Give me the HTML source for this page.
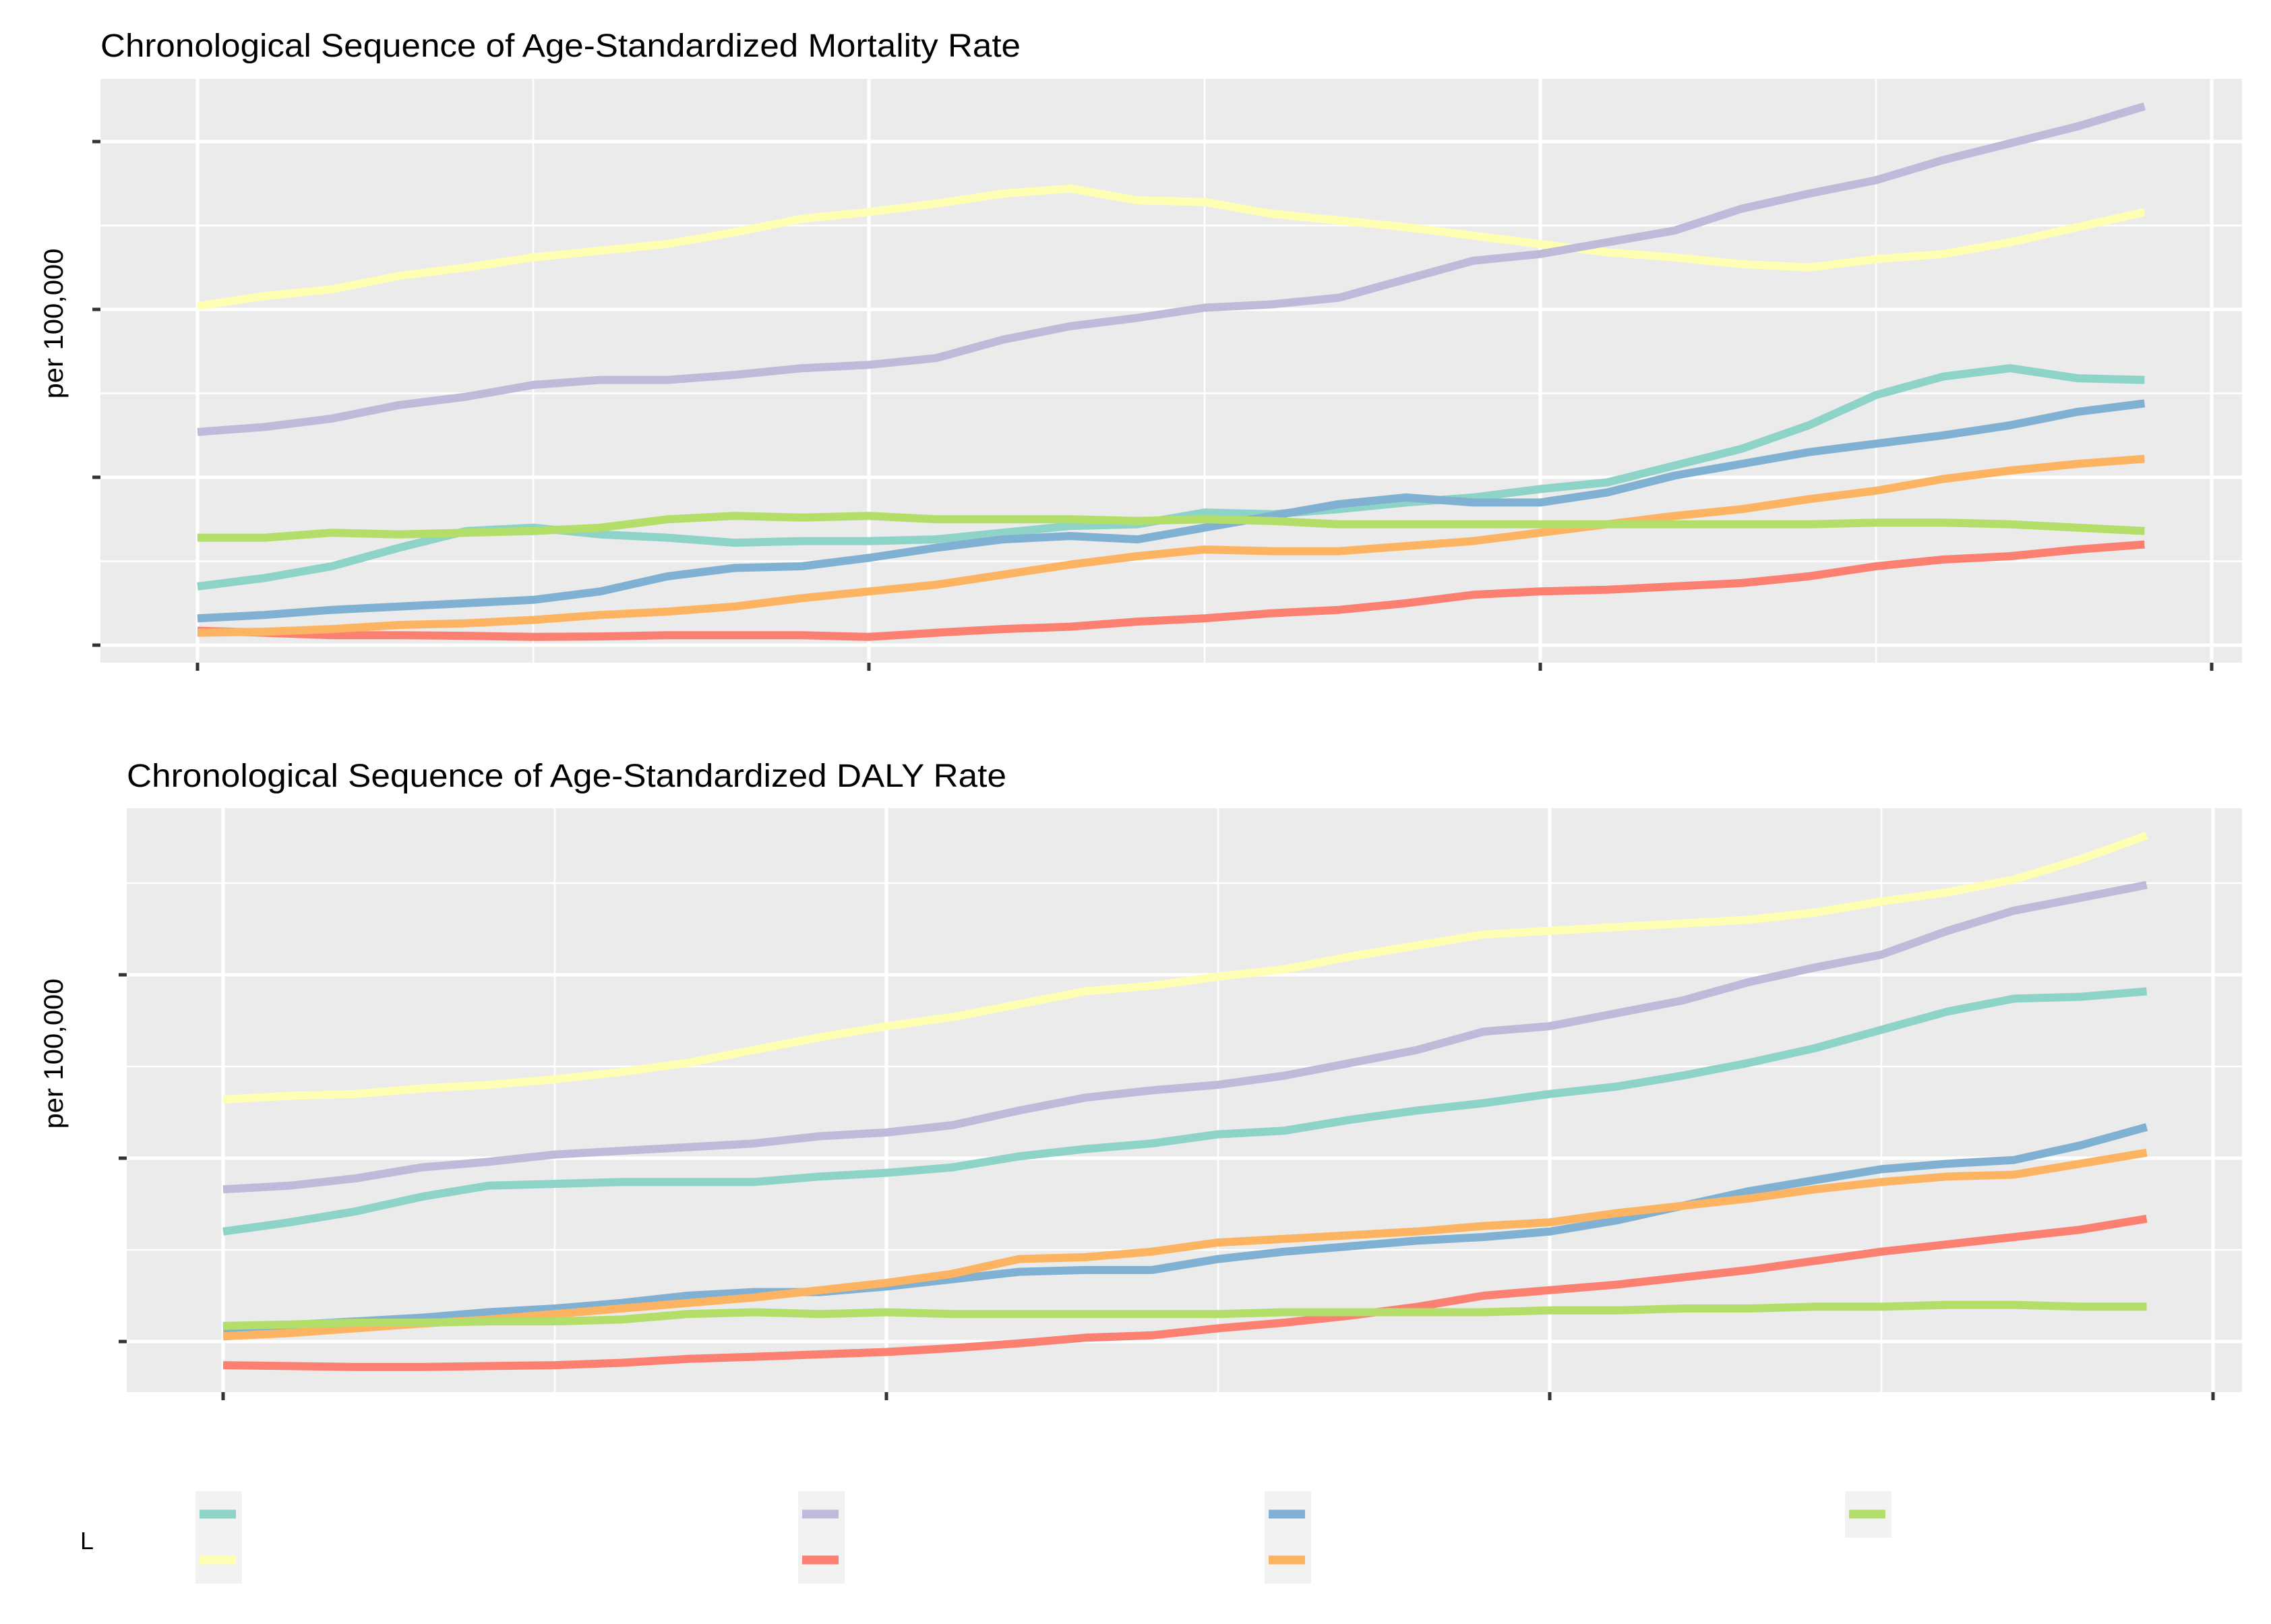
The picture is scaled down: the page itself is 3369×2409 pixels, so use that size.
<!DOCTYPE html>
<html><head><meta charset="utf-8"><style>
html,body{margin:0;padding:0;background:#fff;}
svg{display:block;font-family:"Liberation Sans",sans-serif;}
</style></head><body>
<svg id="chart" width="3369" height="2409" viewBox="0 0 3369 2409" xmlns="http://www.w3.org/2000/svg">
<rect x="0" y="0" width="3369" height="2409" fill="#ffffff"/>
<text x="149" y="84" font-size="48" textLength="1365" lengthAdjust="spacingAndGlyphs">Chronological Sequence of Age-Standardized Mortality Rate</text>
<text x="188" y="1167" font-size="48" textLength="1305" lengthAdjust="spacingAndGlyphs">Chronological Sequence of Age-Standardized DALY Rate</text>
<text transform="translate(93,480) rotate(-90)" text-anchor="middle" font-size="40" textLength="223" lengthAdjust="spacingAndGlyphs">per 100,000</text>
<text transform="translate(93,1563) rotate(-90)" text-anchor="middle" font-size="40" textLength="223" lengthAdjust="spacingAndGlyphs">per 100,000</text>
<g id="panels"></g>
<g id="legend"></g>
<text x="119" y="2298" font-size="36">L</text>
</svg>
<script>
const years = [1990,1991,1992,1993,1994,1995,1996,1997,1998,1999,2000,2001,2002,2003,2004,2005,2006,2007,2008,2009,2010,2011,2012,2013,2014,2015,2016,2017,2018,2019];
const seriesNames = ["series-1","series-2","series-3","series-4","series-5","series-6","series-7"];
const seriesColors = ["#8DD3C7","#FFFFB3","#BEBADA","#FB8072","#80B1D3","#FDB462","#B3DE69"];
const xTicks = [1990,2000,2010,2020];
const mortYTicks = [0,10,20,30];
const dalyYTicks = [0,10,20,30];
const mortTeal = [3.5,4.0,4.7,5.8,6.8,7.0,6.6,6.4,6.1,6.2,6.2,6.3,6.7,7.1,7.2,7.9,7.8,8.1,8.5,8.8,9.3,9.7,10.7,11.7,13.1,14.9,16.0,16.5,15.9,15.8];
const mortYellow = [20.2,20.8,21.2,22.0,22.5,23.1,23.5,23.9,24.6,25.4,25.8,26.3,26.9,27.2,26.5,26.4,25.7,25.3,24.9,24.4,23.9,23.4,23.1,22.7,22.5,23.0,23.3,24.0,24.9,25.8];
const mortPurple = [12.7,13.0,13.5,14.3,14.8,15.5,15.8,15.8,16.1,16.5,16.7,17.1,18.2,19.0,19.5,20.1,20.3,20.7,21.8,22.9,23.3,24.0,24.7,26.0,26.9,27.7,28.9,29.9,30.9,32.1];
const mortRed = [0.86,0.74,0.59,0.59,0.56,0.49,0.52,0.59,0.59,0.59,0.49,0.74,0.96,1.1,1.4,1.6,1.9,2.1,2.5,3.0,3.2,3.3,3.5,3.7,4.1,4.7,5.1,5.3,5.7,6.0];
const mortBlue = [1.6,1.8,2.1,2.3,2.5,2.7,3.2,4.1,4.6,4.7,5.2,5.8,6.3,6.5,6.3,7.0,7.7,8.4,8.8,8.5,8.5,9.1,10.1,10.8,11.5,12.0,12.5,13.1,13.9,14.4];
const mortOrange = [0.74,0.80,0.96,1.2,1.3,1.5,1.8,2.0,2.3,2.8,3.2,3.6,4.2,4.8,5.3,5.7,5.6,5.6,5.9,6.2,6.7,7.2,7.7,8.1,8.7,9.2,9.9,10.4,10.8,11.1];
const mortGreen = [6.4,6.4,6.7,6.6,6.7,6.8,7.0,7.5,7.7,7.6,7.7,7.5,7.5,7.5,7.4,7.5,7.4,7.2,7.2,7.2,7.2,7.2,7.2,7.2,7.2,7.3,7.3,7.2,7.0,6.8];
const dalyTeal = [6.0,6.5,7.1,7.9,8.5,8.6,8.7,8.7,8.7,9.0,9.2,9.5,10.1,10.5,10.8,11.3,11.5,12.1,12.6,13.0,13.5,13.9,14.5,15.2,16.0,17.0,18.0,18.7,18.8,19.1];
const dalyYellow = [13.2,13.4,13.5,13.8,14.0,14.3,14.7,15.2,15.9,16.6,17.2,17.7,18.4,19.1,19.4,19.9,20.3,21.0,21.6,22.2,22.4,22.6,22.8,23.0,23.4,24.0,24.5,25.2,26.3,27.6];
const dalyPurple = [8.3,8.5,8.9,9.5,9.8,10.2,10.4,10.6,10.8,11.2,11.4,11.8,12.6,13.3,13.7,14.0,14.5,15.2,15.9,16.9,17.2,17.9,18.6,19.6,20.4,21.1,22.4,23.5,24.2,24.9];
const dalyRed = [-1.29,-1.34,-1.39,-1.39,-1.34,-1.29,-1.16,-0.95,-0.83,-0.70,-0.57,-0.36,-0.10,0.21,0.34,0.72,1.03,1.42,1.89,2.5,2.8,3.1,3.5,3.9,4.4,4.9,5.3,5.7,6.1,6.7];
const dalyBlue = [0.72,0.90,1.1,1.3,1.6,1.8,2.1,2.5,2.7,2.7,3.0,3.4,3.8,3.9,3.9,4.5,4.9,5.2,5.5,5.7,6.0,6.6,7.4,8.2,8.8,9.4,9.7,9.9,10.7,11.7];
const dalyOrange = [0.28,0.46,0.72,0.98,1.2,1.5,1.8,2.1,2.4,2.8,3.2,3.7,4.5,4.6,4.9,5.4,5.6,5.8,6.0,6.3,6.5,7.0,7.4,7.8,8.3,8.7,9.0,9.1,9.7,10.3];
const dalyGreen = [0.85,0.93,1.03,1.03,1.1,1.1,1.2,1.5,1.6,1.5,1.6,1.5,1.5,1.5,1.5,1.5,1.6,1.6,1.6,1.6,1.7,1.7,1.8,1.8,1.9,1.9,2.0,2.0,1.9,1.9];

const mortSeries = [mortTeal,mortYellow,mortPurple,mortRed,mortBlue,mortOrange,mortGreen];
const dalySeries = [dalyTeal,dalyYellow,dalyPurple,dalyRed,dalyBlue,dalyOrange,dalyGreen];
const drawOrder = [0,1,2,3,4,5,6];

const NS = "http://www.w3.org/2000/svg";
function mk(tag, attrs, parent){
  const e = document.createElementNS(NS, tag);
  for (const k in attrs) e.setAttribute(k, attrs[k]);
  parent.appendChild(e);
  return e;
}

function drawPanel(cfg){
  const root = document.getElementById('panels');
  const g = mk('g', {}, root);
  
  
  const x = v => cfg.x0 + (v - 1990) * cfg.xs;
  const y = v => cfg.y0 - v * cfg.ys;
  const bg = mk('rect', {x:cfg.left, y:cfg.top, width:cfg.right-cfg.left, height:cfg.bottom-cfg.top, fill:'#EBEBEB'}, g);
  
  
  for (let i = 0; i < cfg.yTicks.length; i++){
    const yy = y(cfg.yTicks[i] - 5);
    if (yy > cfg.top && yy < cfg.bottom){
      const l = mk('line', {x1:cfg.left, x2:cfg.right, y1:yy, y2:yy, stroke:'#fff', 'stroke-width':2.5}, g);
      
      
    }
    const yy2 = y(cfg.yTicks[i] + 5);
    if (i === cfg.yTicks.length-1 && yy2 > cfg.top && yy2 < cfg.bottom){
      const l = mk('line', {x1:cfg.left, x2:cfg.right, y1:yy2, y2:yy2, stroke:'#fff', 'stroke-width':2.5}, g);
      
      
    }
  }
  for (let i = 0; i < cfg.xTicks.length; i++){
    const xx = x(cfg.xTicks[i] - 5);
    if (xx > cfg.left && xx < cfg.right){
      const l = mk('line', {x1:xx, x2:xx, y1:cfg.top, y2:cfg.bottom, stroke:'#fff', 'stroke-width':2.5}, g);
      
      
    }
  }
  cfg.yTicks.forEach(t => {
    const yy = y(t);
    if (yy < cfg.top || yy > cfg.bottom) return;
    const l = mk('line', {x1:cfg.left, x2:cfg.right, y1:yy, y2:yy, stroke:'#fff', 'stroke-width':5}, g);
    
    
    const tk = mk('line', {x1:cfg.left-12, x2:cfg.left, y1:yy, y2:yy, stroke:'#333', 'stroke-width':5}, g);
    
    
  });
  cfg.xTicks.forEach(t => {
    const xx = x(t);
    const l = mk('line', {x1:xx, x2:xx, y1:cfg.top, y2:cfg.bottom, stroke:'#fff', 'stroke-width':5}, g);
    
    
    const tk = mk('line', {x1:xx, x2:xx, y1:cfg.bottom, y2:cfg.bottom+12, stroke:'#333', 'stroke-width':5}, g);
    
    
  });
  drawOrder.forEach(si => {
    const vals = cfg.series[si];
    const pts = vals.map((v, i) => x(years[i]).toFixed(1) + ',' + y(v).toFixed(1)).join(' ');
    const pl = mk('polyline', {points:pts, fill:'none', stroke:seriesColors[si], 'stroke-width':12, 'stroke-linejoin':'round'}, g);
    
    
  });
}

drawPanel({name:'mortality-panel', prefix:'mortality', left:149, right:3326, top:117, bottom:983,
  x0:293, xs:99.6, y0:957, ys:24.9, xTicks:xTicks, yTicks:mortYTicks, series:mortSeries});
drawPanel({name:'daly-panel', prefix:'daly', left:188, right:3326, top:1199, bottom:2065,
  x0:331, xs:98.4, y0:1990, ys:27.2, xTicks:xTicks, yTicks:dalyYTicks, series:dalySeries});

const legendCols = [290, 1184, 1876, 2737];
const legendItems = [[0,1],[2,3],[4,5],[6]];
const lg = document.getElementById('legend');
legendItems.forEach((col, ci) => {
  const kx = legendCols[ci];
  const h = col.length === 2 ? 137 : 69;
  const kb = mk('rect', {x:kx, y:2212, width:69, height:h, fill:'#F2F2F2'}, lg);
  
  
  col.forEach((si, ri) => {
    const yy = 2246 + ri * 68;
    const ln = mk('line', {x1:kx+6, x2:kx+60, y1:yy, y2:yy, stroke:seriesColors[si], 'stroke-width':13}, lg);
    
    
  });
});
</script>
</body></html>
